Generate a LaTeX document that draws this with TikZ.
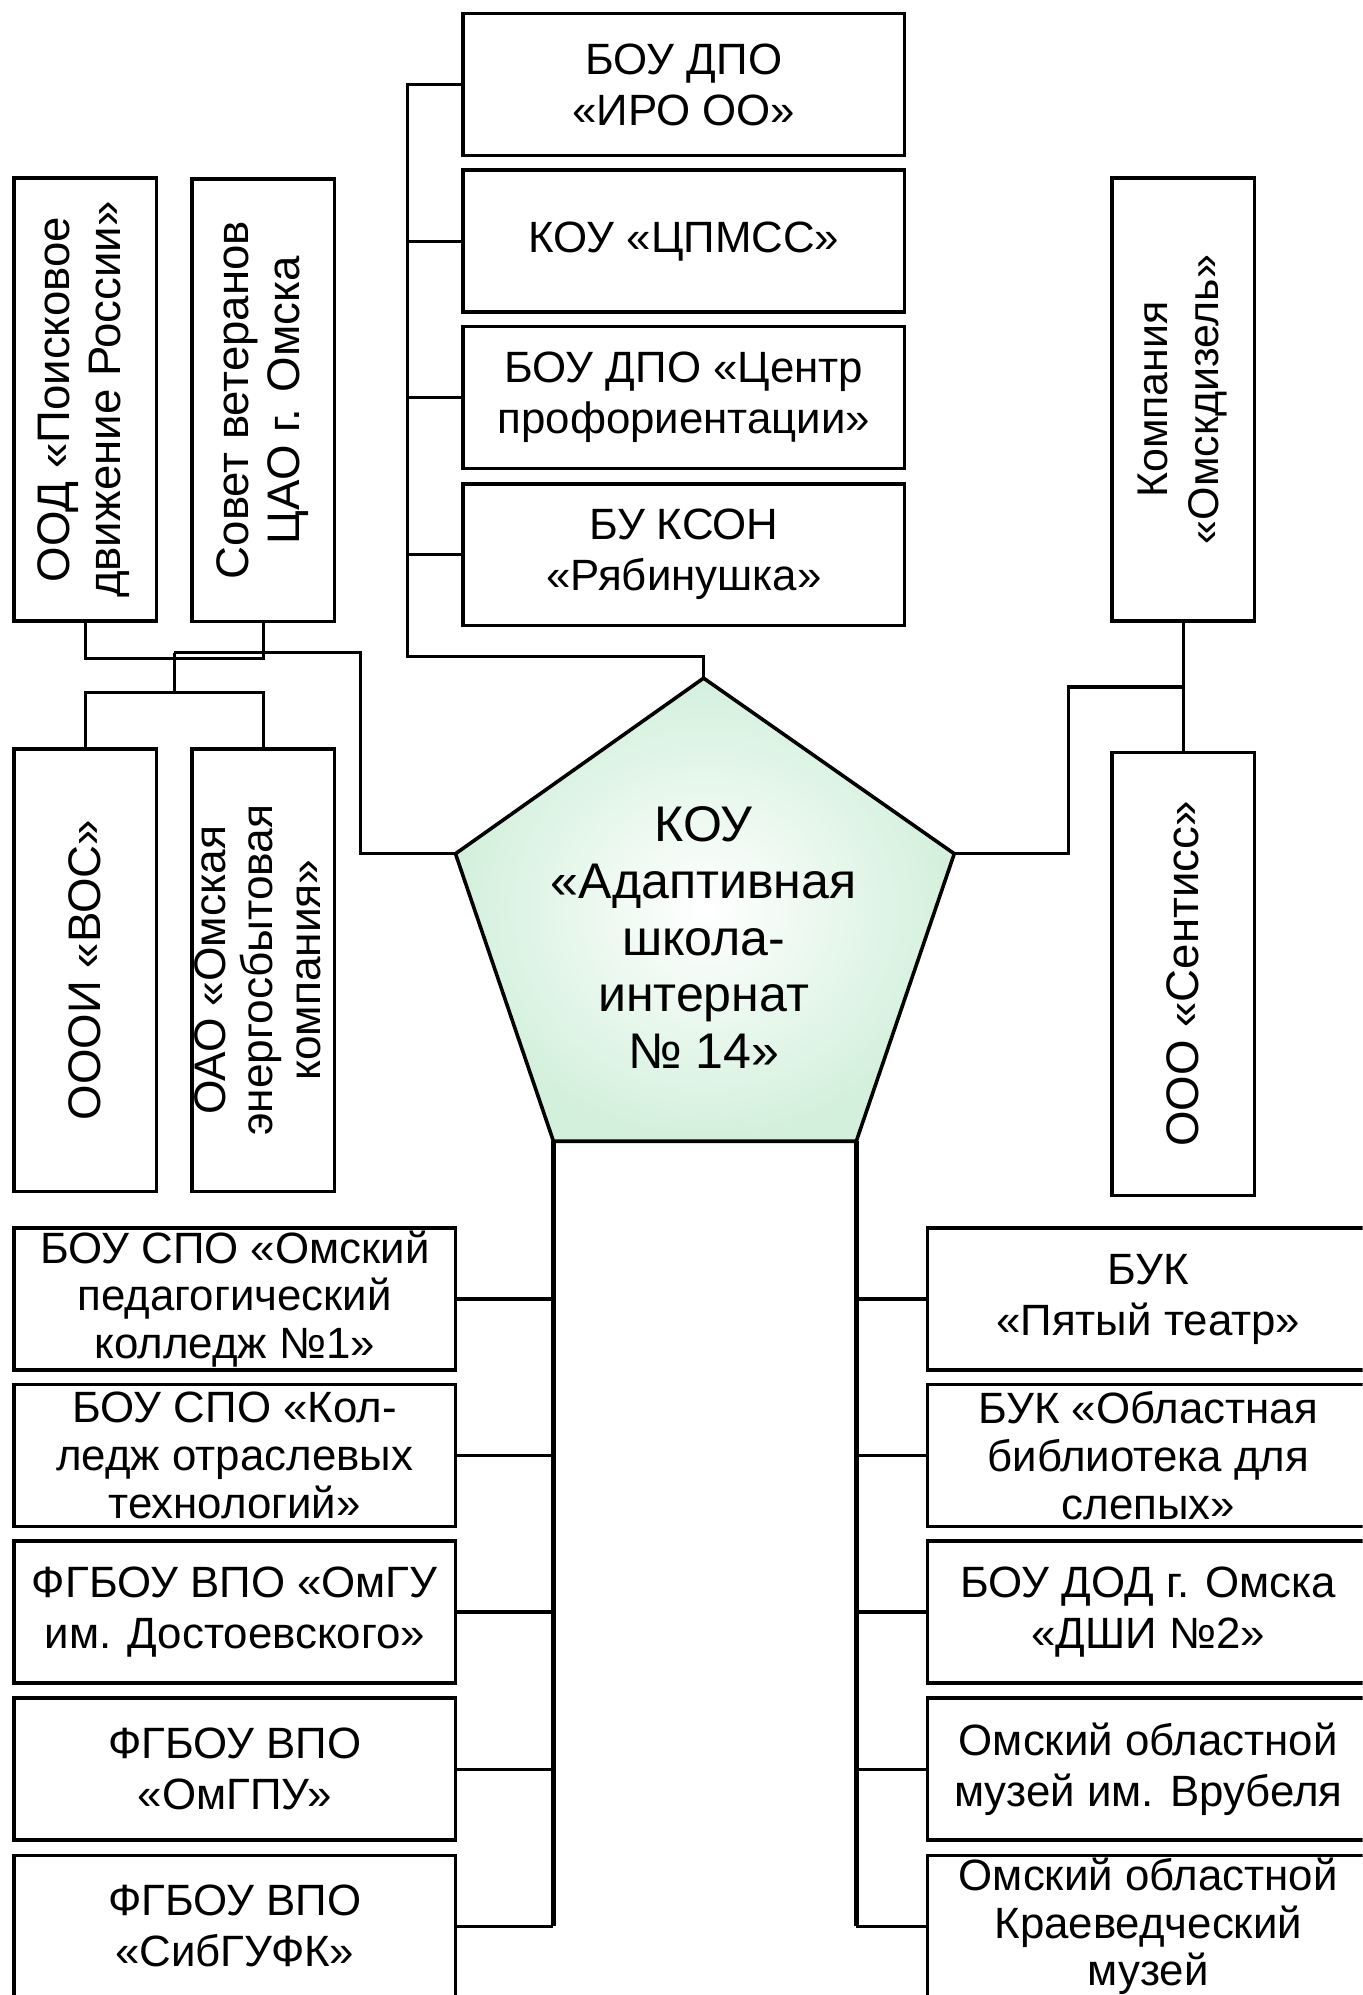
\documentclass[tikz,border=0pt]{standalone}
\usepackage{fontspec}
\setmainfont{Liberation Sans}
\usepackage{tikz}
\usepackage{color,xcolor}
\definecolor{mint}{HTML}{D3F0DC}
\definecolor{ln}{HTML}{000000}

\begin{document}
\begin{tikzpicture}[x=1cm,y=-1cm,
    box/.style={draw=ln,line width=0.8pt,minimum width=3.47cm,minimum height=1.115cm,inner sep=0pt,align=center,font=\fontsize{9.8}{11.4}\selectfont},
    tribox/.style={box,font=\fontsize{9.8}{10.7}\selectfont},
    vbox/.style={draw=ln,line width=0.8pt,minimum width=1.12cm,minimum height=3.48cm,inner sep=0pt,font=\fontsize{10.2}{11.4}\selectfont},
    link/.style={line width=0.7pt},
    trunk/.style={line width=1.1pt}]
            \useasboundingbox (0,0) rectangle (10.71,15.68);
            \clip (0,0) rectangle (10.71,15.68);
            % top column
            \node[box] (iro) at (5.375,0.665) {БОУ ДПО\\«ИРО ОО»};
            \node[box] (cpmss) at (5.375,1.895) {КОУ «ЦПМСС»};
            \node[box] (prof) at (5.375,3.125) {БОУ ДПО «Центр\\профориентации»};
            \node[box] (ryab) at (5.375,4.36) {БУ КСОН\\«Рябинушка»};
            % left vertical boxes
            \node[vbox] (ood) at (0.67,3.14) {\rotatebox{90}{\begin{tabular}{@{}c@{}}ООД «Поисковое\\движение России»\end{tabular}}};
            \node[vbox] (sovet) at (2.07,3.145) {\rotatebox{90}{\begin{tabular}{@{}c@{}}Совет ветеранов\\ЦАО г. Омска\end{tabular}}};
            \node[vbox] (vos) at (0.67,7.625) {\rotatebox{90}{ОООИ «ВОС»}};
            \node[vbox] (oao) at (2.07,7.625) {\rotatebox{90}{\fontsize{9.9}{10.6}\selectfont\begin{tabular}{@{}c@{}}ОАО «Омская\\энергосбытовая\\компания»\end{tabular}}};
            % right vertical boxes
            \node[vbox,font=\fontsize{9.6}{11.4}\selectfont] (dizel) at (9.30,3.14) {\rotatebox{90}{\begin{tabular}{@{}c@{}}Компания\\«Омскдизель»\end{tabular}}};
            \node[vbox] (sent) at (9.30,7.655) {\rotatebox{90}{ООО «Сентисс»}};
            % bottom left
            \node[tribox] (ped) at (1.845,10.21) {БОУ СПО «Омский\\педагогический\\колледж №1»};
            \node[tribox] (kot) at (1.845,11.44) {БОУ СПО «Кол-\\ледж отраслевых\\технологий»};
            \node[box] (omgu) at (1.845,12.67) {ФГБОУ ВПО «ОмГУ\\им. Достоевского»};
            \node[box] (omgpu) at (1.845,13.905) {ФГБОУ ВПО\\«ОмГПУ»};
            \node[box] (sibg) at (1.845,15.14) {ФГБОУ ВПО\\«СибГУФК»};
            % bottom right
            \node[box] (teatr) at (9.025,10.21) {БУК\\«Пятый театр»};
            \node[tribox] (bibl) at (9.025,11.44) {БУК «Областная\\библиотека для\\слепых»};
            \node[box] (dshi) at (9.025,12.67) {БОУ ДОД г. Омска\\«ДШИ №2»};
            \node[box] (vrub) at (9.025,13.905) {Омский областной\\музей им. Врубеля};
            \node[tribox] (kraev) at (9.025,15.14) {Омский областной\\Краеведческий\\музей};
            % pentagon
            \coordinate (ptop) at (5.53,5.33);
            \coordinate (pul) at (3.58,6.71);
            \coordinate (pur) at (7.50,6.71);
            \coordinate (pll) at (4.35,8.97);
            \coordinate (plr) at (6.73,8.97);
            \shadedraw[inner color=white,outer color=mint,draw=ln,line width=0.8pt] (ptop) -- (pur) -- (plr) -- (pll) -- (pul) -- cycle;
            \node[align=center,font=\fontsize{11.2}{12.7}\selectfont] (school) at (5.53,7.37) {КОУ\\«Адаптивная\\школа-\\интернат\\№ 14»};
            % top connectors
            \coordinate (topbus) at (3.20,5.16);
            \draw[link] (iro.west) -| (topbus) -| (ptop);
            \foreach \n in {cpmss,prof,ryab}
              \draw[link] (\n.west) -- (\n.west -| topbus);
            % left connectors
            \coordinate (lj) at (1.37,5.13);
            \coordinate (lbend) at (2.83,5.13);
            \coordinate (lsplit) at (1.37,5.44);
            \draw[link] (ood.south) -- ++(0,0.28) -| (sovet.south);
            \draw[link] (lj) -- (lbend) |- (pul);
            \draw[link] (lj) -- (lsplit);
            \draw[link] (vos.north) |- (lsplit) -| (oao.north);
            % right connectors
            \coordinate (rj) at (9.30,5.40);
            \coordinate (rbend) at (8.40,5.40);
            \draw[link] (dizel.south) -- (sent.north);
            \draw[link] (rj) -- (rbend) |- (pur);
            % bottom trunks
            \draw[trunk] (pll) -- (pll |- sibg.east);
            \draw[trunk] (plr) -- (plr |- kraev.west);
            \foreach \n in {ped,kot,omgu,omgpu,sibg}
              \draw[link] (\n.east) -- (\n.east -| pll);
            \foreach \n in {teatr,bibl,dshi,vrub,kraev}
              \draw[link] (\n.west) -- (\n.west -| plr);
          \end{tikzpicture}
\end{document}
